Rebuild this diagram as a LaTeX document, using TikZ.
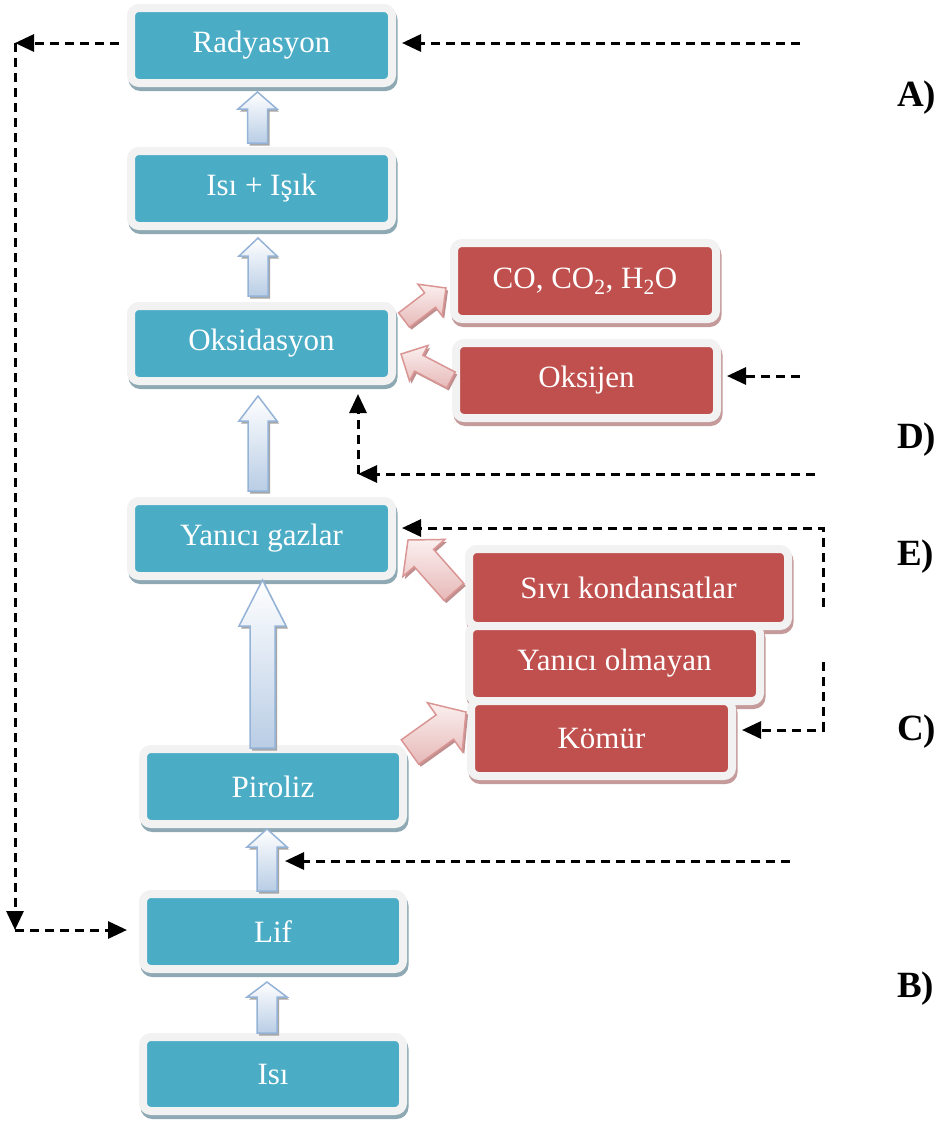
\documentclass[tikz,border=0pt]{standalone}
\usepackage{fontspec}
\setmainfont{Liberation Serif}
\usetikzlibrary{calc,arrows.meta}
\definecolor{boxteal}{HTML}{4BACC6}
\definecolor{boxred}{HTML}{C0504D}
\definecolor{rimgray}{HTML}{F2F2F2}
\definecolor{shadeB}{HTML}{8EA9B4}
\definecolor{shadeR}{HTML}{C49A9A}
\definecolor{arrB}{HTML}{95B3D7}
\definecolor{arrBfill}{HTML}{B9CDE5}
\definecolor{arrR}{HTML}{D99694}
\definecolor{arrRfill}{HTML}{E6B9B8}
\definecolor{arrRtop}{HTML}{FBEFEF}
\newcommand\blockarrow[6]{%
  \coordinate (ba-t) at #2;
  \coordinate (ba-p) at #3;
  \coordinate (ba-h) at ($(ba-p)!#6!(ba-t)$);
  \path[#1] ($(ba-t)!#4!90:(ba-p)$) -- ($(ba-h)!#4!90:(ba-p)$) -- ($(ba-h)!#5!90:(ba-p)$) -- (ba-p)
    -- ($(ba-h)!#5!-90:(ba-p)$) -- ($(ba-h)!#4!-90:(ba-p)$) -- ($(ba-t)!#4!-90:(ba-p)$) -- cycle;}
\tikzset{
 boxbase/.style={draw=rimgray, line width=8pt, rounded corners=8pt, text=white,
   font=\fontsize{31}{36}\selectfont, inner sep=0pt, minimum height=75pt},
 bluebox/.style={boxbase, fill=boxteal, minimum width=261pt,
   preaction={draw=shadeB, fill=shadeB, line width=8pt, transform canvas={xshift=1.5pt,yshift=-4pt}}},
 redbox/.style={boxbase, fill=boxred,
   preaction={draw=shadeR, fill=shadeR, line width=8pt, transform canvas={xshift=1.5pt,yshift=-4pt}}},
 blockB/.style={draw=arrB, line width=1.5pt, top color=white, bottom color=arrBfill, line join=miter,
   preaction={fill=gray!70, transform canvas={xshift=2pt,yshift=-2.5pt}}},
 blockR/.style={draw=arrR, line width=1.5pt, top color=arrRtop, bottom color=arrRfill, line join=miter,
   preaction={fill=arrR!70!gray, transform canvas={xshift=2pt,yshift=-2.5pt}}},
 dline/.style={line width=3pt, dash pattern=on 9pt off 6pt, -{Triangle[length=19pt,width=17pt]}},
 lab/.style={font=\bfseries\fontsize{37}{42}\selectfont, anchor=base west, inner sep=0pt}
}
\begin{document}
\begin{tikzpicture}[x=1pt,y=-1pt]
\useasboundingbox (0,0) rectangle (942,1122);
\fill[white] (0,0) rectangle (942,1122);
% blue boxes
\node[bluebox] (rad) at (261.5,45.5) {Radyasyon};
\node[bluebox] (isik) at (261.5,188.5) {Isı + Işık};
\node[bluebox] (oxi) at (261.5,343.5) {Oksidasyon};
\node[bluebox] (yg) at (261.5,538.5) {Yanıcı gazlar};
\node[bluebox, minimum width=260pt] (pir) at (273,786.5) {Piroliz};
\node[bluebox, minimum width=260pt] (lif) at (273,931.5) {Lif};
\node[bluebox, minimum width=260pt, minimum height=74pt] (isi) at (273,1074) {Isı};
% red boxes
\node[redbox, minimum width=262pt, minimum height=76pt] (co) at (585,281) {CO, CO\textsubscript{2}, H\textsubscript{2}O};
\node[redbox, minimum width=261pt] (oks) at (586.5,380.5) {Oksijen};
\node[redbox, minimum width=319pt, minimum height=77pt] (siv) at (628.5,587.5) {Sıvı kondansatlar};
\node[redbox, minimum width=291pt] (yo) at (614.5,663.5) {Yanıcı olmayan};
\node[redbox, minimum width=261pt] (kom) at (601.5,738.5) {Kömür};
% blue block arrows
\blockarrow{blockB}{($(isi.north)+(-6,0)$)}{($(lif.south)+(-6,9)$)}{10pt}{20pt}{15pt}
\blockarrow{blockB}{($(lif.north)+(-6,1)$)}{($(pir.south)+(-6,1)$)}{10pt}{20pt}{18pt}
\blockarrow{blockB}{($(pir.north)+(-10.5,3)$)}{($(yg.south)+(1,0)$)}{12.5pt}{23.5pt}{46pt}
\blockarrow{blockB}{($(yg.north)+(-3.5,-6)$)}{($(oxi.south)+(-3.5,11)$)}{10pt}{19pt}{25pt}
\blockarrow{blockB}{($(oxi.north)+(-3.5,-6)$)}{($(isik.south)+(-3.5,8)$)}{10pt}{19pt}{18pt}
\blockarrow{blockB}{($(isik.north)+(-4,-4)$)}{($(rad.south)+(-4,5)$)}{10pt}{19.5pt}{17pt}
% red block arrows
\blockarrow{blockR}{($(oxi.east)+(8,-23.5)$)}{($(co.west)+(-4,7)$)}{9pt}{20pt}{20pt}
\blockarrow{blockR}{($(oks.west)+(-1,-0.5)$)}{($(oxi.east)+(5,10.5)$)}{9pt}{20pt}{20pt}
\blockarrow{blockR}{($(siv.west)+(-11,4.5)$)}{($(yg.east)+(12,1.5)$)}{13pt}{28pt}{24pt}
\blockarrow{blockR}{($(pir.east)+(3,-34.5)$)}{($(kom.west)+(-1,-26.5)$)}{15pt}{30pt}{26pt}
% dashed connectors
\coordinate (L1) at (15,43);
\coordinate (L2) at (15,930);
\draw[dline] ($(L1 -| rad.west)+(-8,0)$) -- (L1);
\draw[dline] (L1) -- (L2);
\draw[dline] (L2) -- ($(L2 -| lif.west)+(-12,0)$);
\coordinate (R1) at (800,43);
\draw[dline] (R1) -- ($(R1 -| rad.east)+(6,0)$);
\coordinate (O1) at (800,376);
\draw[dline] (O1) -- ($(O1 -| oks.east)+(6,0)$);
\coordinate (D1) at (815,474);
\coordinate (D2) at (358,474);
\draw[dline] (D1) -- (D2);
\draw[dline] (D2) -- ($(D2 |- oxi.south)+(0,9)$);
\coordinate (E1) at (823,607);
\coordinate (E2) at (823,528);
\draw[dline] (E1) -- (E2) -- ($(E2 -| yg.east)+(6,0)$);
\coordinate (C1) at (823,662);
\coordinate (C2) at (823,730);
\draw[dline] (C1) -- (C2) -- ($(C2 -| kom.east)+(6,0)$);
\coordinate (B1) at (790,861);
\coordinate (B2) at (285,861);
\draw[dline] (B1) -- (B2);
% labels
\node[lab] (la) at (897,106) {A)};
\node[lab] (ld) at (897,448) {D)};
\node[lab] (le) at (897,565) {E)};
\node[lab] (lc) at (897,740) {C)};
\node[lab] (lb) at (897,997) {B)};
\end{tikzpicture}
\end{document}
